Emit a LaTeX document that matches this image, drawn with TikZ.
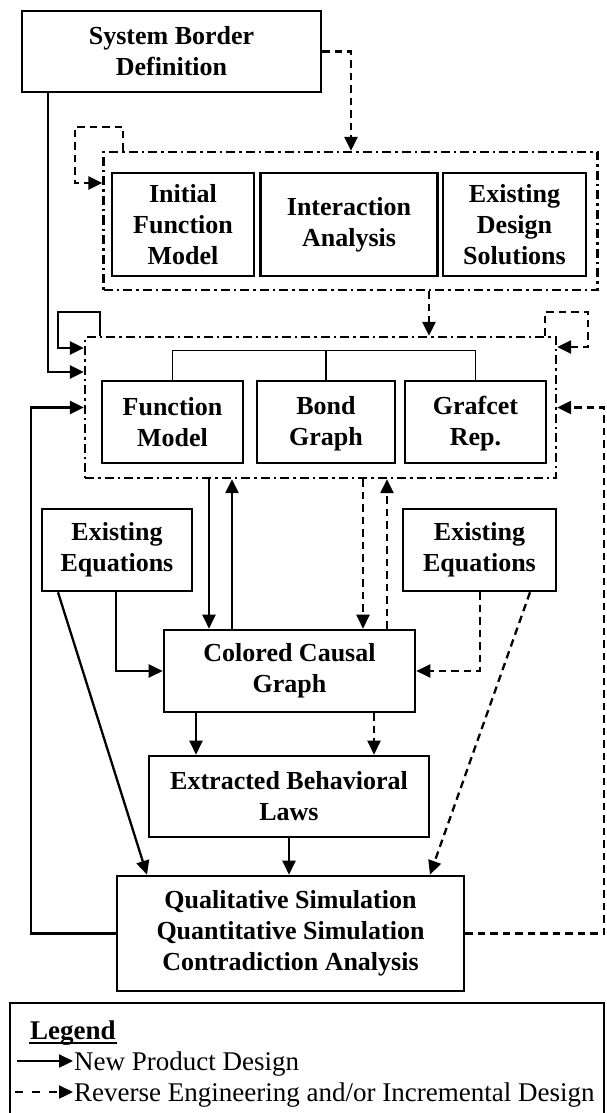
\documentclass[tikz,border=0pt]{standalone}
\usepackage{fontspec}
\setmainfont{Liberation Serif}
\usetikzlibrary{arrows.meta}
\begin{document}
\begin{tikzpicture}[x=1pt,y=-1pt,
  box/.style={draw, line width=2.6pt, inner sep=0pt, align=center,
    font=\bfseries\fontsize{26}{31}\selectfont},
  group/.style={draw, line width=2.3pt, inner sep=0pt,
    dash pattern=on 9pt off 4pt on 2.5pt off 4pt},
  flow/.style={line width=2.3pt, -{Triangle[length=14pt,width=13pt]}},
  rev/.style={flow, dash pattern=on 7.5pt off 5pt},
  branch/.style={line width=1.4pt},
  legtext/.style={anchor=base west, inner sep=1pt, font=\fontsize{27}{31}\selectfont},
]
\fill[white] (0,0) rectangle (606,1113);
\useasboundingbox (0,0) rectangle (606,1113);

% top box and first group
\node[box, minimum width=299pt, minimum height=81pt] (sbd) at (171.5,51.5) {System Border\\Definition};
\node[group, minimum width=494pt, minimum height=138pt] (g1) at (350.5,221) {};
\node[box, minimum width=142pt, minimum height=103pt] (ifm) at (183,224.5) {Initial\\Function\\Model};
\node[box, minimum width=177pt, minimum height=103pt] (ia) at (349,224.5) {Interaction\\Analysis};
\node[box, minimum width=143pt, minimum height=103pt] (eds) at (514.5,224.5) {Existing\\Design\\Solutions};

% second group
\node[group, minimum width=471pt, minimum height=141pt] (g2) at (320.5,407.5) {};
\node[box, minimum width=141pt, minimum height=82pt] (fm) at (172.5,422) {Function\\Model};
\node[box, minimum width=138pt, minimum height=82pt] (bg) at (326,422) {\strut Bond\\Graph};
\node[box, minimum width=141pt, minimum height=82pt] (gr) at (475.5,422) {\strut Grafcet\\Rep.};

% equations, causal graph, laws, simulation
\node[box, minimum width=150pt, minimum height=82pt] (eeL) at (117,550) {Existing\\Equations};
\node[box, minimum width=153pt, minimum height=82pt] (eeR) at (479.5,550) {Existing\\Equations};
\node[box, minimum width=251pt, minimum height=82pt] (ccg) at (289.5,671) {Colored Causal\\Graph};
\node[box, minimum width=280pt, minimum height=81pt] (ebl) at (289,796.5) {Extracted Behavioral\\Laws};
\node[box, minimum width=347pt, minimum height=115pt] (qs) at (290.5,933.5) {Qualitative Simulation\\Quantitative Simulation\\Contradiction Analysis};

% connectors around the top
\draw[rev] (sbd.east) -| ([xshift=0.5pt]g1.north);
\draw[rev] ([xshift=-227.5pt]g1.north) -- ++(0,-24) -- ++(-48,0) |- ([yshift=38pt]g1.west);
\draw[flow] ([xshift=-123.5pt]sbd.south) |- ([yshift=35.5pt]g2.west);
\draw[rev] ([xshift=78.5pt]g1.south) -- ([xshift=108.5pt]g2.north);
\draw[flow] ([xshift=-220.5pt]g2.north) -- ++(0,-24) -- ++(-42,0) |- ([yshift=59.5pt]g2.west);
\draw[rev] ([xshift=224.5pt]g2.north) -- ++(0,-24) -- ++(43,0) |- ([yshift=60.5pt]g2.east);

% branching inside the second group
\draw[branch] (fm.north) -- ++(0,-29) -| (gr.north);
\draw[branch] (bg.north) -- ++(0,-29);

% feedback from the simulation
\draw[flow] (qs.west) -- ++(-85,0) |- (g2.west);
\draw[rev] (qs.east) -- ++(139,0) |- (g2.east);

% between the second group and the causal graph
\draw[flow] ([xshift=-111.5pt]g2.south) -- ([xshift=-80.5pt]ccg.north);
\draw[flow] ([xshift=-57.5pt]ccg.north) -- ([xshift=-88.5pt]g2.south);
\draw[rev] ([xshift=42.5pt]g2.south) -- ([xshift=73.5pt]ccg.north);
\draw[rev] ([xshift=97.5pt]ccg.north) -- ([xshift=66.5pt]g2.south);

% equations into the causal graph and the simulation
\draw[flow] ([xshift=-1pt]eeL.south) |- (ccg.west);
\draw[rev] ([xshift=0.5pt]eeR.south) |- (ccg.east);
\draw[flow] ([xshift=-59pt]eeL.south) -- ([xshift=-143.5pt]qs.north);
\draw[rev] ([xshift=50.5pt]eeR.south) -- ([xshift=139.5pt]qs.north);

% down the chain
\draw[flow] ([xshift=-93.5pt]ccg.south) -- ([xshift=-93pt]ebl.north);
\draw[rev] ([xshift=84.5pt]ccg.south) -- ([xshift=85pt]ebl.north);
\draw[flow] (ebl.south) -- ([xshift=-1.5pt]qs.north);

% legend
\node[draw, line width=2.3pt, inner sep=0pt, minimum width=594pt, minimum height=124pt] (leg) at (307,1065) {};
\node[legtext, font=\bfseries\fontsize{27}{31}\selectfont] (lt) at (29,1039) {Legend};
\draw[line width=1.7pt] ([yshift=-4pt]lt.base west) -- ([yshift=-4pt]lt.base east);
\node[legtext] (l1) at (73,1070) {New Product Design};
\node[legtext] (l2) at (73,1101) {Reverse Engineering and/or Incremental Design};
\coordinate (s1) at (17,1061);
\coordinate (s2) at (15,1092);
\draw[flow] (s1) -- (s1 -| l1.west);
\draw[flow, dash pattern=on 8pt off 9pt] (s2) -- (s2 -| l2.west);
\end{tikzpicture}
\end{document}
